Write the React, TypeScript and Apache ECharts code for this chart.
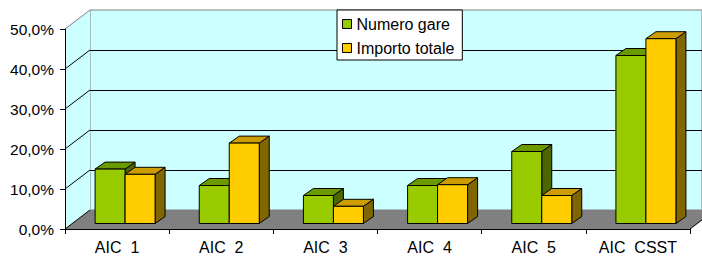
import React, { useEffect, useRef } from "react";
import * as echarts from "echarts";

const CATEGORIES = ["AIC  1", "AIC  2", "AIC  3", "AIC  4", "AIC  5", "AIC  CSST"];
const SERIES_NAMES = ["Numero gare", "Importo totale"];
const NUMERO_GARE = [13.6, 9.5, 7.0, 9.5, 18.0, 42.0];
const IMPORTO_TOTALE = [12.3, 20.1, 4.3, 9.7, 7.0, 46.2];
const Y_TICKS = [0, 10, 20, 30, 40, 50];

const FONT = "'Liberation Sans', Arial, sans-serif";
const WALL = "#CCFFFF";
const FLOOR = "#808080";
const EDGE = "#808080";
// 3D depth of the chart box and of the bars (pixels)
const DX = 25;
const DY = -19;
const OX = 8;
const OY = -5.5;
const BX = 10;
const BY = -7;

const PALETTE = [
  { front: "#99CC00", top: "#6B9900", side: "#4D6600" },
  { front: "#FFCC00", top: "#CC9C00", side: "#806600" },
];

const fmt = (v: number) => v.toFixed(1).replace(".", ",") + "%";

function barRenderer(s: number) {
  return (params: any, api: any) => {
    const idx = api.value(0);
    const val = api.value(1);
    const base = api.coord([idx, 0]);
    const top = api.coord([idx, val]);
    const band = api.size([1, 0])[0];
    const w = band * 0.288;
    const x0 = base[0] + OX - w + s * w;
    const yb = base[1] + OY;
    const yt = top[1] + OY;
    const c = PALETTE[s];
    const st = { stroke: "#000", lineWidth: 1 };
    return {
      type: "group",
      children: [
        {
          type: "polygon",
          shape: { points: [[x0 + w, yt], [x0 + w + BX, yt + BY], [x0 + w + BX, yb + BY], [x0 + w, yb]] },
          style: { fill: c.side, ...st },
        },
        {
          type: "polygon",
          shape: { points: [[x0, yt], [x0 + w, yt], [x0 + w + BX, yt + BY], [x0 + BX, yt + BY]] },
          style: { fill: c.top, ...st },
        },
        {
          type: "rect",
          shape: { x: x0, y: yt, width: w, height: yb - yt },
          style: { fill: c.front, ...st },
        },
      ],
    };
  };
}

function frameRenderer(params: any, api: any) {
  const v = api.value(1);
  const p = api.coord([0, v]);
  const cs = params.coordSys;
  const xl = cs.x;
  const xr = cs.x + cs.width;
  const y = p[1];
  const maxV = Y_TICKS[Y_TICKS.length - 1];
  const children: any[] = [];
  if (params.dataIndex === 0) {
    const yTop = api.coord([0, maxV])[1];
    children.push({
      type: "polygon",
      shape: { points: [[xl, yTop], [xl + DX, yTop + DY], [xl + DX, y + DY], [xl, y]] },
      style: { fill: WALL },
    });
    children.push({
      type: "polygon",
      shape: { points: [[xl, y], [xr, y], [xr + DX, y + DY], [xl + DX, y + DY]] },
      style: { fill: FLOOR },
    });
    children.push({
      type: "line",
      shape: { x1: xr, y1: y, x2: xr + DX, y2: y + DY },
      style: { stroke: "#000", lineWidth: 1 },
    });
  }
  children.push({
    type: "line",
    shape: { x1: xl, y1: y, x2: xl + DX, y2: y + DY },
    style: { stroke: v === maxV ? EDGE : "#000", lineWidth: 1 },
  });
  return { type: "group", children };
}

export default function App() {
  const ref = useRef<HTMLDivElement>(null);
  useEffect(() => {
    if (!ref.current) return;
    const chart = echarts.init(ref.current, null, { renderer: "svg" });
    const maxV = Y_TICKS[Y_TICKS.length - 1];
    chart.setOption({
      animation: false,
      textStyle: { fontFamily: FONT },
      legend: {
        orient: "vertical",
        left: 337,
        top: 10,
        padding: [5, 8, 3, 5],
        itemGap: 6,
        itemWidth: 9,
        itemHeight: 9,
        backgroundColor: "#fff",
        borderColor: "#000",
        borderWidth: 1,
        borderRadius: 0,
        textStyle: { fontSize: 16, color: "#000", fontFamily: FONT, lineHeight: 18 },
        data: SERIES_NAMES.map((n, i) => ({
          name: n,
          icon: "rect",
          itemStyle: { color: PALETTE[i].front, borderColor: "#000", borderWidth: 1 },
        })),
        selectedMode: false,
      },
      grid: [
        { left: 65, top: 29, width: 625, height: 200 },
        {
          left: 65 + DX,
          top: 29 + DY,
          width: 625,
          height: 200,
          show: true,
          backgroundColor: WALL,
          borderColor: EDGE,
          borderWidth: 1,
        },
      ],
      xAxis: [
        {
          type: "category",
          gridIndex: 0,
          data: CATEGORIES,
          z: 5,
          axisLine: { lineStyle: { color: "#000", width: 1 } },
          axisTick: { show: true, interval: 0, length: 5, lineStyle: { color: "#000" } },
          axisLabel: { interval: 0, fontSize: 16, color: "#000", margin: 10, fontFamily: FONT },
          splitLine: { show: false },
        },
        {
          type: "category",
          gridIndex: 1,
          data: CATEGORIES,
          show: false,
        },
      ],
      yAxis: [
        {
          type: "value",
          gridIndex: 0,
          min: 0,
          max: maxV,
          interval: 10,
          z: 5,
          axisLine: { show: true, lineStyle: { color: "#000", width: 1 } },
          axisTick: { show: true, length: 5, lineStyle: { color: "#000" } },
          axisLabel: { fontSize: 15.5, color: "#000", margin: 11, fontFamily: FONT, formatter: fmt },
          splitLine: { show: false },
        },
        {
          type: "value",
          gridIndex: 1,
          min: 0,
          max: maxV,
          interval: 10,
          axisLine: { show: false },
          axisTick: { show: false },
          axisLabel: { show: false },
          splitLine: { show: true, showMinLine: false, showMaxLine: false, lineStyle: { color: "#000", width: 1 } },
        },
      ],
      series: [
        {
          type: "custom",
          name: "frame",
          xAxisIndex: 0,
          yAxisIndex: 0,
          z: 1,
          silent: true,
          renderItem: frameRenderer,
          encode: { x: 0, y: 1 },
          data: Y_TICKS.map((v) => [0, v]),
        },
        {
          type: "custom",
          name: SERIES_NAMES[0],
          xAxisIndex: 0,
          yAxisIndex: 0,
          z: 2,
          itemStyle: { color: PALETTE[0].front, borderColor: "#000", borderWidth: 1 },
          renderItem: barRenderer(0),
          encode: { x: 0, y: 1 },
          data: NUMERO_GARE.map((v, i) => [i, v]),
        },
        {
          type: "custom",
          name: SERIES_NAMES[1],
          xAxisIndex: 0,
          yAxisIndex: 0,
          z: 2,
          itemStyle: { color: PALETTE[1].front, borderColor: "#000", borderWidth: 1 },
          renderItem: barRenderer(1),
          encode: { x: 0, y: 1 },
          data: IMPORTO_TOTALE.map((v, i) => [i, v]),
        },
      ],
    });
    return () => chart.dispose();
  }, []);
  return (
    <div
      ref={ref}
      style={{ position: "absolute", left: 0, top: 0, width: 702, height: 256, background: "#fff" }}
    />
  );
}
